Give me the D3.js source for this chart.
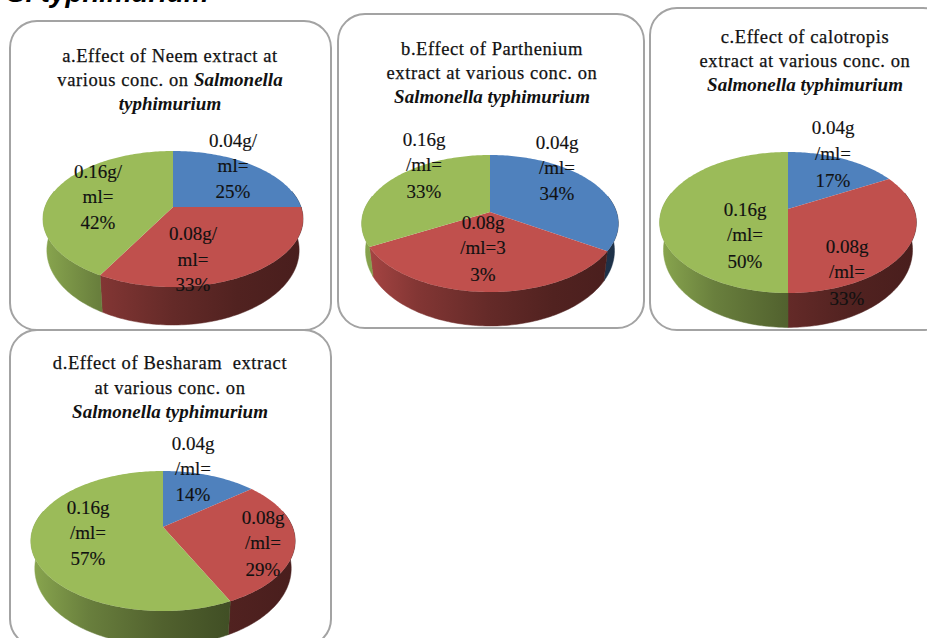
<!DOCTYPE html>
<html>
<head>
<meta charset="utf-8">
<script src="https://cdn.jsdelivr.net/npm/d3@7/dist/d3.min.js"></script>
<style>
html,body{margin:0;padding:0;background:#fff;overflow:hidden}
svg{display:block}
text{font-family:"Liberation Serif",serif;fill:#111}
</style>
</head>
<body>
<svg id="chart" width="927" height="638"></svg>
<script>
// Share of each concentration, one list per extract (percent).
const categories = ["0.04g/ml", "0.08g/ml", "0.16g/ml"];
const neemValues = [25, 33, 42];
const partheniumValues = [34, 33, 33];
const calotropisValues = [17, 33, 50];
const besharamValues = [14, 29, 57];

const sliceColors = ["#4f81bd", "#c0504d", "#9bbb59"];
// Shading of the pie wall from its left rim to its right rim.
const wallShade = [[0, 0.88], [0.21, 0.68], [0.5, 0.52], [0.75, 0.42], [1, 0.38]];

const panels = [
  {
    id: "a", values: neemValues,
    box: [10, 21, 321, 309],
    pie: { cx: 173, apex: 207, top: 151, front: 287, r: 128, depth: 30 },
    titleX: 170,
    title: [
      { y: 62, parts: [["a.Effect of Neem extract at", false]] },
      { y: 86, parts: [["various conc. on ", false], ["Salmonella", true]] },
      { y: 110, parts: [["typhimurium", true]] }
    ],
    labels: [
      { x: 233, y: [147, 172, 198], lines: ["0.04g/", "ml=", "25%"] },
      { x: 193, y: [240, 266, 291], lines: ["0.08g/", "ml=", "33%"] },
      { x: 98, y: [178, 203, 229], lines: ["0.16g/", "ml=", "42%"] }
    ]
  },
  {
    id: "b", values: partheniumValues,
    box: [338, 14, 306, 314],
    pie: { cx: 490, apex: 212, top: 155, front: 292, r: 126.5, depth: 26 },
    titleX: 492,
    title: [
      { y: 55, parts: [["b.Effect of Parthenium", false]] },
      { y: 79, parts: [["extract at various conc. on", false]] },
      { y: 103, parts: [["Salmonella typhimurium", true]] }
    ],
    labels: [
      { x: 557, y: [149, 174, 200], lines: ["0.04g", "/ml=", "34%"] },
      { x: 483, y: [229, 254, 281], lines: ["0.08g", "/ml=3", "3%"] },
      { x: 424, y: [146, 171, 198], lines: ["0.16g", "/ml=", "33%"] }
    ]
  },
  {
    id: "c", values: calotropisValues,
    box: [650, 8, 300, 322],
    pie: { cx: 788, apex: 209, top: 152, front: 293, r: 126, depth: 26 },
    titleX: 805,
    title: [
      { y: 43, parts: [["c.Effect of calotropis", false]] },
      { y: 67, parts: [["extract at various conc. on", false]] },
      { y: 91, parts: [["Salmonella typhimurium", true]] }
    ],
    labels: [
      { x: 833, y: [134, 160, 187], lines: ["0.04g", "/ml=", "17%"] },
      { x: 847, y: [253, 278, 305], lines: ["0.08g", "/ml=", "33%"] },
      { x: 745, y: [216, 241, 268], lines: ["0.16g", "/ml=", "50%"] }
    ]
  },
  {
    id: "d", values: besharamValues,
    box: [10, 330, 321, 316],
    pie: { cx: 163, apex: 527, top: 471, front: 611, r: 129.5, depth: 26 },
    titleX: 170,
    title: [
      { y: 369, parts: [["d.Effect of Besharam  extract", false]] },
      { y: 394, parts: [["at various conc. on", false]] },
      { y: 418, parts: [["Salmonella typhimurium", true]] }
    ],
    labels: [
      { x: 193, y: [450, 475, 501], lines: ["0.04g", "/ml=", "14%"] },
      { x: 263, y: [524, 549, 576], lines: ["0.08g", "/ml=", "29%"] },
      { x: 88, y: [514, 539, 565], lines: ["0.16g", "/ml=", "57%"] }
    ]
  }
];

const svg = d3.select("#chart");
const defs = svg.append("defs");
const pieLayout = d3.pie().sort(null).startAngle(0).endAngle(2 * Math.PI);
const outline = d3.line();

// Tilted disc with perspective: points nearer the viewer spread further from the apex.
function projector(p) {
  const above = p.apex - p.top, below = p.front - p.apex;
  const k = (below - above) / (below + above);
  const s = above * (1 + k);
  return angle => {
    const u = Math.sin(angle), v = Math.cos(angle);
    const w = 1 + k * v;
    return [p.cx + p.r * u / w, p.apex - s * v / w];
  };
}

function arcAngles(a0, a1) {
  const n = Math.max(2, Math.ceil((a1 - a0) / 0.02));
  return d3.range(n + 1).map(i => a0 + (a1 - a0) * i / n);
}

panels.forEach(panel => {
  const g = svg.append("g").attr("class", "panel-" + panel.id);
  const [bx, by, bw, bh] = panel.box;
  g.append("rect")
    .attr("x", bx).attr("y", by).attr("width", bw).attr("height", bh)
    .attr("rx", 27).attr("ry", 27)
    .attr("fill", "#fff").attr("stroke", "#a3a3a3").attr("stroke-width", 2);

  const p = panel.pie;
  const project = projector(p);
  const slices = pieLayout(panel.values);

  // One left-to-right gradient per slice colour, spanning the whole pie.
  sliceColors.forEach((c, i) => {
    const grad = defs.append("linearGradient")
      .attr("id", `wall-${panel.id}-${i}`)
      .attr("gradientUnits", "userSpaceOnUse")
      .attr("x1", p.cx - p.r).attr("x2", p.cx + p.r)
      .attr("y1", 0).attr("y2", 0);
    wallShade.forEach(([t, f]) => {
      const rgb = d3.rgb(c);
      grad.append("stop").attr("offset", t)
        .attr("stop-color", d3.rgb(rgb.r * f, rgb.g * f, rgb.b * f).formatHex());
    });
  });

  // Base of the drum: narrower than the top face, deeper towards the viewer.
  const toBase = ([x, y]) => [p.cx + (x - p.cx) * 0.97, p.apex + (y - p.apex) * 1.1 + p.depth];

  const walls = g.append("g");
  slices.forEach((s, i) => {
    const a0 = Math.max(s.startAngle, Math.PI * 0.42);
    const a1 = Math.min(s.endAngle, Math.PI * 1.58);
    if (a1 <= a0) return;
    const rim = arcAngles(a0, a1).map(project);
    const base = rim.map(toBase).reverse();
    walls.append("path")
      .attr("d", outline(rim.concat(base)) + "Z")
      .attr("fill", `url(#wall-${panel.id}-${i})`)
      .attr("stroke", `url(#wall-${panel.id}-${i})`).attr("stroke-width", 0.5);
  });

  const faces = g.append("g");
  slices.forEach((s, i) => {
    const rim = arcAngles(s.startAngle, s.endAngle).map(project);
    faces.append("path")
      .attr("d", outline([[p.cx, p.apex]].concat(rim)) + "Z")
      .attr("fill", sliceColors[i]);
  });

  // Title lines, with the species name set in bold italic.
  panel.title.forEach(line => {
    const t = g.append("text")
      .attr("x", panel.titleX).attr("y", line.y)
      .attr("text-anchor", "middle")
      .attr("xml:space", "preserve");
    line.parts.forEach(([txt, em]) => {
      t.append("tspan").text(txt)
        .attr("font-size", em ? 19 : 18.5)
        .attr("letter-spacing", em ? 0 : 0.6)
        .attr("font-style", em ? "italic" : "normal")
        .attr("font-weight", em ? "bold" : "normal")
        .attr("stroke", em ? "none" : "#111")
        .attr("stroke-width", em ? 0 : 0.25);
    });
  });

  // Slice labels, three stacked lines each.
  panel.labels.forEach(lab => {
    lab.lines.forEach((txt, j) => {
      g.append("text")
        .attr("x", lab.x).attr("y", lab.y[j])
        .attr("text-anchor", "middle")
        .attr("font-size", 19)
        .attr("stroke", "#111").attr("stroke-width", 0.15)
        .text(txt);
    });
  });
});

// Caption running off the top edge.
svg.append("text")
  .attr("x", 7).attr("y", 2)
  .style("font-family", '"Liberation Sans",sans-serif')
  .style("font-weight", "bold").style("font-style", "italic")
  .attr("font-size", 27.7).style("fill", "#000")
  .text("S. typhimurium");
</script>
</body>
</html>
